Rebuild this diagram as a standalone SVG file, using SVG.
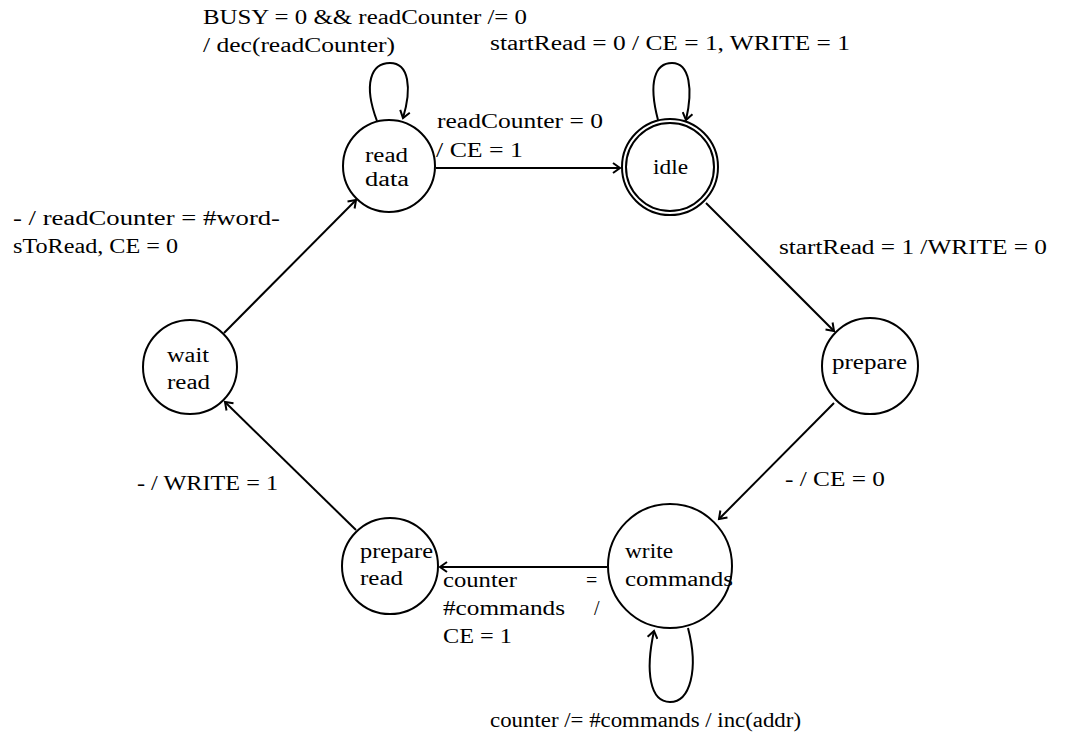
<svg xmlns="http://www.w3.org/2000/svg" width="1067" height="733" viewBox="0 0 1067 733">
<defs>
<style>
text{font-family:"Liberation Serif","Times New Roman",serif;font-size:20px;fill:#000}
.st{fill:#fff;stroke:#000;stroke-width:2}
.e{fill:none;stroke:#000;stroke-width:2}
</style>
<marker id="ar" markerWidth="12" markerHeight="12" refX="9" refY="6" orient="auto" markerUnits="userSpaceOnUse">
<path d="M2,1 L9,6 L2,11" fill="none" stroke="#000" stroke-width="2"/>
</marker>
</defs>
<rect width="1067" height="733" fill="#fff"/>
<g id="connectors">
<path class="e" d="M436,168 L620,168" marker-end="url(#ar)"/>
<path class="e" d="M706,203 L834,331" marker-end="url(#ar)"/>
<path class="e" d="M834,403 L719,519" marker-end="url(#ar)"/>
<path class="e" d="M607,567 L440,567" marker-end="url(#ar)"/>
<path class="e" d="M356,530 L225,402" marker-end="url(#ar)"/>
<path class="e" d="M224,333 L356,200" marker-end="url(#ar)"/>
<path class="e" d="M377,121 C363,84 371,63 390,63 C409,63 412,88 403,118" marker-end="url(#ar)"/>
<path class="e" d="M658,120 C648,82 655,63 672,63 C690,63 693,90 686,120" marker-end="url(#ar)"/>
<path class="e" d="M688,628 C699,670 690,702 670,702 C650,702 645,672 654,631" marker-end="url(#ar)"/>
<text x="203" y="24" textLength="324" lengthAdjust="spacingAndGlyphs">BUSY = 0 &amp;&amp; readCounter /= 0</text>
<text x="203" y="52" textLength="192" lengthAdjust="spacingAndGlyphs">/ dec(readCounter)</text>
<text x="490" y="50" textLength="360" lengthAdjust="spacingAndGlyphs">startRead = 0 / CE = 1, WRITE = 1</text>
<text x="437" y="128" textLength="166" lengthAdjust="spacingAndGlyphs">readCounter = 0</text>
<text x="436" y="157" textLength="87" lengthAdjust="spacingAndGlyphs">/ CE = 1</text>
<text x="779" y="254" textLength="268" lengthAdjust="spacingAndGlyphs">startRead = 1 /WRITE = 0</text>
<text x="13" y="225" textLength="267" lengthAdjust="spacingAndGlyphs">- / readCounter = #word-</text>
<text x="13" y="253" textLength="165" lengthAdjust="spacingAndGlyphs">sToRead, CE = 0</text>
<text x="137" y="490" textLength="141" lengthAdjust="spacingAndGlyphs">- / WRITE = 1</text>
<text x="785" y="486" textLength="100" lengthAdjust="spacingAndGlyphs">- / CE = 0</text>
<text x="443" y="587" textLength="74" lengthAdjust="spacingAndGlyphs">counter</text>
<text x="586" y="587">=</text>
<text x="443" y="615" textLength="122" lengthAdjust="spacingAndGlyphs">#commands</text>
<text x="594" y="615">/</text>
<text x="443" y="643" textLength="69" lengthAdjust="spacingAndGlyphs">CE = 1</text>
<text x="490" y="727" textLength="311" lengthAdjust="spacingAndGlyphs">counter /= #commands / inc(addr)</text>
</g>
<g id="read-data">
<circle class="st" cx="389" cy="166" r="46"/>
<text x="365" y="162" textLength="43" lengthAdjust="spacingAndGlyphs">read</text>
<text x="365" y="186" textLength="44" lengthAdjust="spacingAndGlyphs">data</text>
</g>
<g id="idle">
<circle class="st" cx="670" cy="167" r="48"/>
<circle class="e" cx="670" cy="167" r="44"/>
<text x="653" y="174" textLength="35" lengthAdjust="spacingAndGlyphs">idle</text>
</g>
<g id="prepare">
<circle class="st" cx="870" cy="366" r="48"/>
<text x="832" y="369" textLength="75" lengthAdjust="spacingAndGlyphs">prepare</text>
</g>
<g id="write-commands">
<circle class="st" cx="670" cy="566" r="62"/>
<text x="625" y="558" textLength="48" lengthAdjust="spacingAndGlyphs">write</text>
<text x="625" y="586" textLength="108" lengthAdjust="spacingAndGlyphs">commands</text>
</g>
<g id="prepare-read">
<circle class="st" cx="390" cy="566" r="48"/>
<text x="360" y="558" textLength="73" lengthAdjust="spacingAndGlyphs">prepare</text>
<text x="360" y="585" textLength="43" lengthAdjust="spacingAndGlyphs">read</text>
</g>
<g id="wait-read">
<circle class="st" cx="190" cy="367" r="47"/>
<text x="167" y="362" textLength="42" lengthAdjust="spacingAndGlyphs">wait</text>
<text x="167" y="389" textLength="43" lengthAdjust="spacingAndGlyphs">read</text>
</g>
</svg>
